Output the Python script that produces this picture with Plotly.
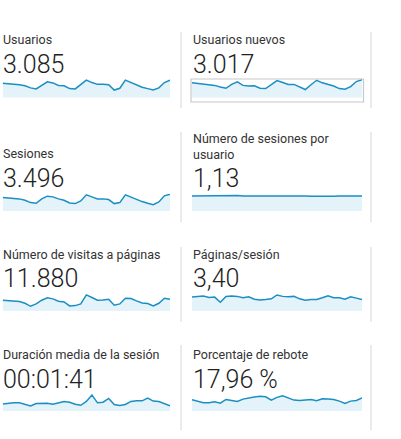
import pandas as pd
import plotly.graph_objects as go

# one month of daily values per metric
days = pd.date_range("2019-03-01", periods=31, freq="D")

titles = [
    "Usuarios", "Usuarios nuevos",
    "Sesiones", "Número de sesiones por<br>usuario",
    "Número de visitas a páginas", "Páginas/sesión",
    "Duración media de la sesión", "Porcentaje de rebote",
]
totals = [
    "3.085", "3.017",
    "3.496", "1,13",
    "11.880", "3,40",
    "00:01:41", "17,96 %",
]

usuarios = [110, 108, 104, 102, 96, 84, 78, 98, 118, 112, 98, 96, 80, 78, 102, 128,
            114, 104, 104, 102, 72, 82, 128, 114, 102, 88, 80, 72, 84, 114, 128]
usuarios_nuevos = [114, 110, 106, 102, 98, 88, 80, 104, 120, 98, 94, 96, 80, 78, 104, 128,
                   116, 104, 104, 88, 72, 102, 130, 114, 104, 94, 78, 74, 90, 122, 134]
sesiones = [125, 123, 121, 117, 109, 95, 91, 117, 133, 129, 117, 109, 93, 89, 105, 141,
            129, 117, 117, 113, 89, 95, 141, 127, 113, 101, 91, 83, 99, 135, 145]
sesiones_usuario = [1.13, 1.14, 1.13, 1.12, 1.15, 1.17, 1.15, 1.17, 1.16, 1.14, 1.13, 1.12,
                    1.13, 1.13, 1.13, 1.13, 1.14, 1.14, 1.15, 1.18, 1.14, 1.12, 1.11, 1.11,
                    1.12, 1.11, 1.13, 1.12, 1.12, 1.13, 1.13]
visitas = [356, 348, 340, 324, 284, 212, 268, 356, 412, 388, 332, 316, 220, 228, 268, 484,
           420, 356, 364, 380, 236, 268, 404, 396, 340, 292, 276, 220, 284, 404, 380]
paginas_sesion = [3.58, 3.76, 3.85, 3.49, 3.58, 2.24, 3.76, 3.85, 3.76, 3.40, 3.67, 3.04,
                  2.86, 2.95, 3.13, 4.12, 3.76, 3.67, 3.76, 3.13, 2.77, 2.95, 2.95, 3.40,
                  3.94, 3.40, 3.40, 3.04, 3.67, 3.31, 2.95]
duracion = [88, 97, 101, 101, 80, 63, 92, 97, 97, 84, 101, 118, 109, 84, 71, 118,
            197, 101, 109, 155, 80, 67, 80, 118, 126, 126, 160, 122, 118, 92, 63]
rebote = [17.9, 15.2, 13.1, 13.1, 14.7, 12.5, 18.5, 16.9, 15.2, 19.0, 21.2, 22.3, 23.4,
          22.8, 17.4, 21.8, 24.5, 20.7, 17.4, 16.9, 17.4, 18.5, 16.3, 19.6, 19.0, 18.5,
          15.8, 12.0, 15.8, 16.9, 20.7]

series = [usuarios, usuarios_nuevos, sesiones, sesiones_usuario,
          visitas, paginas_sesion, duracion, rebote]
y_ranges = [[30, 134], [22, 138], [45, 149], [0, 1.32],
            [100, 516], [0, 4.5], [0, 210], [0, 27.2]]

W, H = 401, 439
LINE = "#1b8ec2"
FILL = "#e4f2f9"
GRID = "#d6d6d6"
FONT = "Roboto"

col_x = [(2.7, 170), (192, 362)]
row_y = [(79, 97.5), (193.5, 211), (293.5, 311), (394, 411)]
title_base = [46, 159, 260, 360]
total_base = [75.3, 188.7, 288.7, 389.7]


def px(x):
    return x / W


def py(y):
    return 1 - y / H


fig = go.Figure()
layout = dict(
    width=W, height=H,
    margin=dict(l=0, r=0, t=0, b=0),
    paper_bgcolor="white", plot_bgcolor="rgba(0,0,0,0)",
    showlegend=False,
    annotations=[], shapes=[],
)

for i, vals in enumerate(series):
    row, col = divmod(i, 2)
    n = str(i + 1) if i else ""
    fig.add_trace(go.Scatter(
        x=days, y=vals, mode="lines",
        line=dict(color=LINE, width=1.5),
        fill="tozeroy", fillcolor=FILL,
        xaxis="x" + n, yaxis="y" + n, hoverinfo="skip",
    ))
    x0, x1 = col_x[col]
    y0, y1 = row_y[row]
    layout["xaxis" + n] = dict(domain=[px(x0), px(x1)], range=[days[0], days[-1]],
                              visible=False, fixedrange=True)
    layout["yaxis" + n] = dict(domain=[py(y1), py(y0)], range=y_ranges[i],
                              visible=False, fixedrange=True, anchor="x" + n)

    tx = 1 if col == 0 else 191
    tb = title_base[row]
    if i == 3:
        tb += 1
    layout["annotations"].append(dict(
        text=titles[i], x=px(tx), y=py(tb + 3.5), xref="paper", yref="paper",
        xanchor="left", yanchor="bottom", showarrow=False, align="left",
        font=dict(family=FONT, size=12.5, color="#333333"),
    ))
    layout["annotations"].append(dict(
        text=totals[i], x=px(tx - 0.5), y=py(total_base[row] + 6), xref="paper", yref="paper",
        xanchor="left", yanchor="bottom", showarrow=False,
        font=dict(family=FONT, size=25, color="#222222", weight=300),
    ))

# frame around the highlighted sparkline
layout["shapes"].append(dict(type="rect", xref="paper", yref="paper",
                             x0=px(191), x1=px(363.5), y0=py(102), y1=py(79),
                             line=dict(color="#c8c8c8", width=1.2)))

# vertical separators
for sx in (181, 371):
    for a, b in [(32, 108), (132, 222), (247, 322), (345, 430)]:
        layout["shapes"].append(dict(type="line", xref="paper", yref="paper",
                                     x0=px(sx), x1=px(sx), y0=py(a), y1=py(b),
                                     line=dict(color=GRID, width=1)))

fig.update_layout(**layout)
# page body has a default 8px margin; drop it so the figure sits at the window corner
fig.write_html("out.html", config={"displayModeBar": False},
               post_script="document.body.style.margin = '0';")
